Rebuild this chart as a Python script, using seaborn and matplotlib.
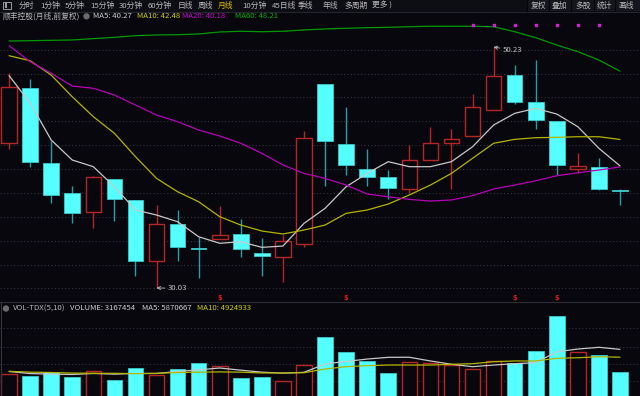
import matplotlib
matplotlib.use("Agg")
import matplotlib.pyplot as plt
import numpy as np
import seaborn as sns
from matplotlib.patches import Rectangle, Circle

# 顺丰控股 月线 K 线
opens = [42.21, 46.82, 40.53, 38.02, 36.43, 39.19, 37.43, 32.27, 35.37, 33.41,
         34.11, 34.58, 32.96, 32.60, 33.69, 47.10, 42.13, 39.98, 39.31, 38.35,
         40.73, 42.18, 42.77, 44.95, 47.88, 45.65, 44.05, 40.00, 40.15, 38.24]
highs = [48.03, 47.55, 42.35, 38.58, 39.40, 39.19, 37.43, 36.99, 36.57, 34.33,
         36.90, 35.81, 34.25, 34.47, 43.19, 47.10, 45.18, 41.71, 39.92, 42.02,
         43.50, 43.33, 46.29, 50.23, 48.75, 49.14, 44.05, 41.32, 40.93, 38.35]
lows = [41.66, 40.20, 37.13, 35.45, 35.03, 35.67, 31.04, 30.03, 32.27, 30.84,
        34.11, 32.65, 31.04, 30.53, 33.44, 38.60, 39.50, 38.58, 37.46, 37.97,
        40.73, 38.30, 42.77, 44.95, 45.45, 43.36, 39.50, 39.64, 38.24, 36.99]
closes = [46.85, 40.57, 37.85, 36.34, 39.36, 37.46, 32.27, 35.37, 33.44, 33.27,
          34.50, 33.30, 32.69, 33.94, 42.63, 42.35, 40.31, 39.33, 38.39, 40.76,
          42.21, 42.54, 45.23, 47.83, 45.60, 44.09, 40.31, 40.28, 38.30, 38.13]

ma5 = [47.83, 45.54, 42.44, 40.76, 40.20, 38.52, 36.57, 36.15, 35.59, 34.33,
       33.78, 33.91, 33.44, 33.55, 35.45, 36.71, 38.52, 39.64, 40.62, 40.20,
       40.20, 40.62, 41.87, 43.69, 44.67, 45.09, 44.61, 43.55, 41.74, 40.27]
ma10 = [49.50, 49.08, 47.88, 46.06, 44.39, 43.00, 41.04, 39.22, 38.10, 37.26,
        36.01, 35.31, 34.81, 34.56, 34.89, 35.31, 36.29, 36.57, 37.07, 37.83,
        38.66, 39.64, 40.90, 42.16, 42.49, 42.63, 42.66, 42.71, 42.71, 42.48]
ma20 = [50.34, 49.00, 48.03, 46.96, 46.77, 46.21, 45.37, 44.53, 43.97, 43.27,
        42.77, 42.16, 41.32, 40.34, 39.64, 39.22, 38.66, 37.91, 37.68, 37.46,
        37.32, 37.41, 37.77, 38.33, 38.66, 39.02, 39.44, 39.69, 39.92, 40.18]
ma60 = [50.73, 50.76, 50.79, 50.82, 50.93, 51.04, 51.18, 51.24, 51.26, 51.32,
        51.49, 51.55, 51.51, 51.55, 51.66, 51.74, 51.80, 51.85, 51.88, 51.93,
        51.97, 51.97, 51.97, 51.93, 51.51, 51.01, 50.40, 49.84, 49.14, 48.21]

# 成交量
volume = [2860000, 2660000, 3100000, 2530000, 3220000, 2140000, 3580000, 2740000,
          3460000, 4190000, 3860000, 2380000, 2530000, 2090000, 3950000, 7360000,
          5550000, 4500000, 2980000, 4310000, 4190000, 3980000, 3500000, 4470000,
          4260000, 5710000, 9860000, 5590000, 5150000, 3167454]
vol_ma5 = [3200000, 2950000, 2880000, 2840000, 2960000, 2880000, 2960000, 2960000,
           3200000, 3400000, 3620000, 3360000, 3120000, 3000000, 3100000, 4100000,
           4420000, 4700000, 4910000, 4920000, 4470000, 4070000, 3780000, 3980000,
           4140000, 4260000, 5580000, 5910000, 6120000, 5870667]
vol_ma10 = [3220000, 3120000, 3080000, 3010000, 2980000, 2980000, 2940000, 2980000,
            3080000, 3120000, 3150000, 3120000, 3020000, 3020000, 3050000, 3500000,
            3780000, 3900000, 3980000, 3980000, 3980000, 4070000, 4140000, 4380000,
            4470000, 4470000, 4790000, 4860000, 4980000, 4924933]

dot_idx = [22, 23, 24, 25, 26, 27, 28]   # 顶部紫色信号点
dot_level = 52.07
flag_idx = [10, 16, 24, 26]               # 底部红色 $ 标记

BG = "#07070d"
RED = "#b52626"
CYAN = "#55ffff"
CYAN_W = "#2a9ea6"
GRID = "#3a3a48"
TXT = "#b8b8b8"
FS = 5.6

sns.set_theme(style="dark", rc={"axes.facecolor": BG, "figure.facecolor": BG})
plt.rcParams["font.family"] = ["Noto Sans CJK SC", "DejaVu Sans"]

W, H = 640, 396
fig = plt.figure(figsize=(6.4, 3.96), dpi=100)


def frame(top, bottom):
    return [0, 1 - bottom / H, 1, (bottom - top) / H]


ax = fig.add_axes(frame(13, 302))
axv = fig.add_axes(frame(302, 396))

x = np.arange(len(opens))
o = np.array(opens); c = np.array(closes)
hi = np.array(highs); lo = np.array(lows)
up = c >= o
top = np.maximum(o, c); bot = np.minimum(o, c)
bh = np.maximum(top - bot, 0.06)
w = 0.74

# 影线
ax.vlines(x[up], top[up], hi[up], color=RED, lw=1.0)
ax.vlines(x[up], lo[up], bot[up], color=RED, lw=1.0)
ax.vlines(x[~up], lo[~up], hi[~up], color=CYAN_W, lw=1.0)
# 实体
ax.bar(x[up], bh[up], bottom=bot[up], width=w, facecolor=BG, edgecolor=RED, linewidth=1.0, zorder=3)
ax.bar(x[~up], bh[~up], bottom=bot[~up], width=w, facecolor=CYAN, edgecolor="#3cc8c8", linewidth=0.6, zorder=3)

sns.lineplot(x=x, y=ma5, ax=ax, color="#c8c8c8", lw=0.9, zorder=4)
sns.lineplot(x=x, y=ma10, ax=ax, color="#b4b400", lw=0.9, zorder=4)
sns.lineplot(x=x, y=ma20, ax=ax, color="#b800b8", lw=0.9, zorder=4)
sns.lineplot(x=x, y=ma60, ax=ax, color="#009a00", lw=0.9, zorder=4)
ax.scatter(dot_idx, [dot_level] * len(dot_idx), marker="s", s=2.5, color="#d020d0", zorder=5)

ax.annotate("30.03", xy=(7, 30.03), xytext=(7.55, 30.03), color="#c0c0c0", fontsize=FS,
            va="center", arrowprops=dict(arrowstyle="->", color="#c0c0c0", lw=0.6, shrinkA=0, shrinkB=0))
ax.annotate("50.23", xy=(23, 50.23), xytext=(23.45, 49.95), color="#c0c0c0", fontsize=FS,
            va="center", arrowprops=dict(arrowstyle="->", color="#c0c0c0", lw=0.6, shrinkA=0, shrinkB=0))
for i in flag_idx:
    ax.text(i, 29.22, "$", color="#e01818", fontsize=4.8, fontweight="bold", ha="center", va="center",
            family="DejaVu Sans")

ax.set_xlim(-0.43, 29.95)
ax.set_ylim(28.86, 53.08)
ax.set_yticks(np.arange(30, 51, 2))

# 成交量面板
v = np.array(volume)
axv.bar(x[up], v[up], width=w, facecolor=BG, edgecolor=RED, linewidth=1.0, zorder=3)
axv.bar(x[~up], v[~up], width=w, facecolor=CYAN, edgecolor="#3cc8c8", linewidth=0.6, zorder=3)
sns.lineplot(x=x, y=vol_ma5, ax=axv, color="#c8c8c8", lw=0.9, zorder=4)
sns.lineplot(x=x, y=vol_ma10, ax=axv, color="#b4b400", lw=0.9, zorder=4)
axv.set_xlim(-0.43, 29.95)
axv.set_ylim(241400, 11587200)
axv.set_yticks([2050000, 4070000, 6190000, 8410000])

for a in (ax, axv):
    a.grid(False)
    a.yaxis.grid(True, color=GRID, linestyle=(0, (1, 2.5)), lw=0.7)
    a.tick_params(left=False, bottom=False, labelleft=False, labelbottom=False)
    for s in a.spines.values():
        s.set_visible(False)

# 界面文字与框
ui = fig.add_axes([0, 0, 1, 1])
ui.set_xlim(0, W); ui.set_ylim(H, 0); ui.axis("off")
ui.add_patch(Rectangle((0, 0), W, 11.5, facecolor="#0d0d14", edgecolor="none"))
ui.plot([0, W], [11.8, 11.8], color="#25252e", lw=0.8)
ui.plot([0, W], [302.3, 302.3], color="#2c2c34", lw=0.9)
ui.plot([0.6, 0.6], [302, H], color="#34343c", lw=0.8)
ui.add_patch(Rectangle((3, 1.8), 8, 7.5, facecolor="none", edgecolor="#9a9a9a", lw=0.7))
ui.add_patch(Rectangle((4.6, 3.3), 2.2, 4.5, facecolor="#9a9a9a", edgecolor="none"))

tabs = ["分时", "1分钟", "5分钟", "15分钟", "30分钟", "60分钟", "日线", "周线", "月线",
        "10分钟", "45日线", "季线", "年线", "多周期", "更多 )"]
tab_x = [19, 40, 65, 90, 119, 148, 178, 198, 218, 242, 272, 298, 323, 344, 372]
for t, tx in zip(tabs, tab_x):
    ui.text(tx, 5.6, t, fontsize=FS, color="#e0c000" if t == "月线" else TXT, va="center")

buttons = ["复权", "叠加", "多股", "统计", "画线"]
btn_x = [531, 552, 575, 597, 618]
ui.add_patch(Rectangle((527, 0), W - 527, 11.3, facecolor="#15151d", edgecolor="none"))
for bx in [527, 549, 571, 594, 615]:
    ui.plot([bx, bx], [0, 11.3], color="#050508", lw=0.8)
for b, bx in zip(buttons, btn_x):
    ui.text(bx, 5.6, b, fontsize=FS, color=TXT, va="center")

ui.text(3, 16.3, "顺丰控股(月线,前复权)", fontsize=FS, color=TXT, va="center")
ui.add_patch(Circle((86.5, 16.3), 3.2, facecolor="#6a6a6a", edgecolor="none"))
ui.text(93, 16.3, "MA5: 40.27", fontsize=FS, color="#d0d0d0", va="center")
ui.text(137, 16.3, "MA10: 42.48", fontsize=FS, color="#d2d200", va="center")
ui.text(182, 16.3, "MA20: 40.18", fontsize=FS, color="#d000d0", va="center")
ui.text(235, 16.3, "MA60: 48.21", fontsize=FS, color="#00b400", va="center")

ui.add_patch(Circle((6, 308.5), 3.2, facecolor="#6a6a6a", edgecolor="none"))
ui.text(13, 308.5, "VOL-TDX(5,10)", fontsize=FS, color=TXT, va="center")
ui.text(70, 308.5, "VOLUME: 3167454", fontsize=FS, color="#d0d0d0", va="center")
ui.text(142, 308.5, "MA5: 5870667", fontsize=FS, color="#d0d0d0", va="center")
ui.text(197, 308.5, "MA10: 4924933", fontsize=FS, color="#d2d200", va="center")

fig.savefig("out.png", dpi=100, facecolor=BG)
